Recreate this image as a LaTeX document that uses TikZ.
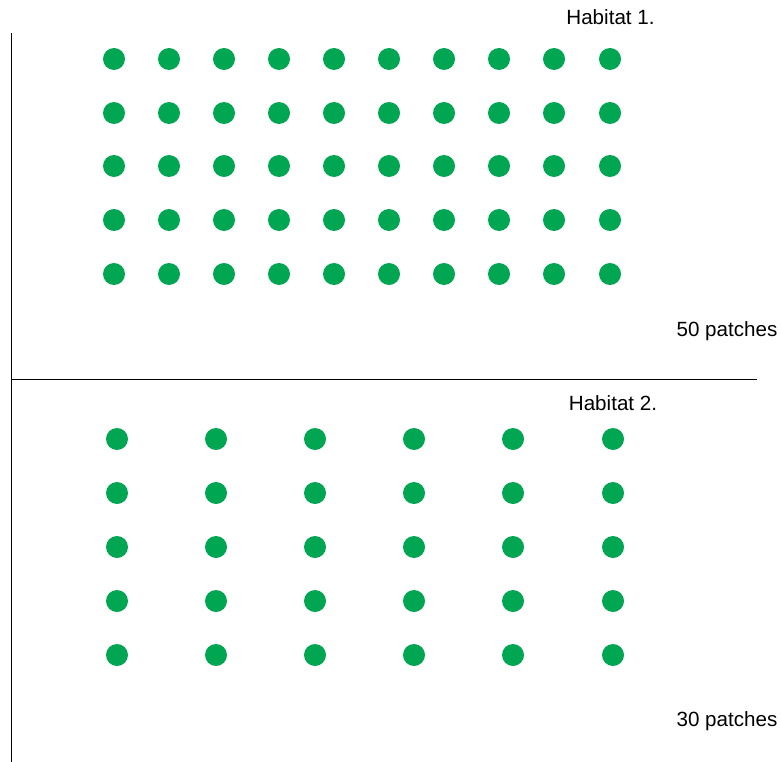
\documentclass[tikz,border=0pt]{standalone}
\usepackage{fontspec}
\setmainfont{Liberation Sans}
\definecolor{patchgreen}{HTML}{00A651}
\begin{document}
\begin{tikzpicture}[x=1pt,y=-1pt,
  patch/.style={circle,fill=patchgreen,inner sep=0pt,minimum size=22pt},
  lbl/.style={font=\fontsize{20.6}{24}\selectfont,inner sep=0pt},
  axis/.style={line width=1pt,black}]
\useasboundingbox (0,0) rectangle (781,762);
\coordinate (vtop) at (11,33);
\coordinate (vbot) at (11,762);
\coordinate (hl) at (11,379.5);
\coordinate (hr) at (757,379.5);
\draw[axis] (vtop) -- (vbot);
\draw[axis] (hl) -- (hr);
\foreach \c [count=\i] in {114,169,224,279,334,389,444,499,554,610}
  \foreach \r [count=\j] in {59,113,166,220,274}
    \node[patch] (hA-\i-\j) at (\c,\r) {};
\foreach \c [count=\i] in {117,216,315,414,513,613}
  \foreach \r [count=\j] in {439,493,547,601,655}
    \node[patch] (hB-\i-\j) at (\c,\r) {};
\node[lbl] (t1) at (610.5,17) {Habitat 1.};
\node[lbl] (n1) at (727,331) {50 patches};
\node[lbl] (t2) at (613,403) {Habitat 2.};
\node[lbl] (n2) at (727,721) {30 patches};
\end{tikzpicture}
\end{document}
